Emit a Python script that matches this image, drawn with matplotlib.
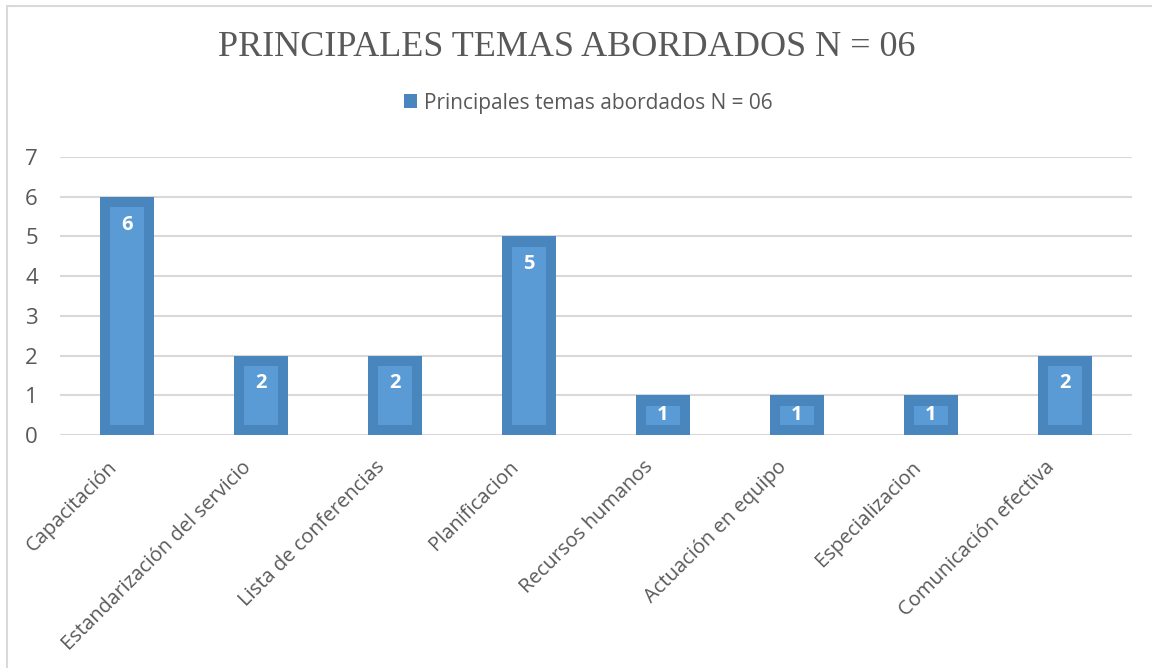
import matplotlib.pyplot as plt
from matplotlib.patches import Rectangle
from matplotlib.transforms import ScaledTranslation
import numpy as np

categories = ["Capacitación", "Estandarización del servicio", "Lista de conferencias",
              "Planificacion", "Recursos humanos", "Actuación en equipo",
              "Especializacion", "Comunicación efectiva"]
values = [6, 2, 2, 5, 1, 1, 1, 2]
y_ticks = [0, 1, 2, 3, 4, 5, 6, 7]
title = "PRINCIPALES TEMAS ABORDADOS N = 06"
series_name = "Principales temas abordados N = 06"

dark_blue = "#4a86be"
light_blue = "#5b9bd5"
grey_text = "#595959"

plt.rcParams['font.family'] = ['Open Sans', 'DejaVu Sans']

fig = plt.figure(figsize=(11.52, 6.68), dpi=100)
ax = fig.add_axes([60 / 1152, 1 - 435 / 668, 1072 / 1152, 278 / 668])

x = np.arange(len(categories))
vals = np.array(values, dtype=float)

# outer darker bar, then the lighter inner panel (Excel-like bevel)
ax.bar(x, vals, width=0.4, color=dark_blue, zorder=3, label=series_name)
ax.bar(x, vals - 0.52, width=0.25, bottom=0.25, color=light_blue, zorder=4)

for xi, v in zip(x, values):
    ax.text(xi, max(v - 0.7, v / 2), str(v), ha="center", va="center",
            color="white", fontsize=14.5, fontweight="bold", zorder=5)

ax.set_xlim(-0.5, len(categories) - 0.5)
ax.set_ylim(0, 7)
ax.set_yticks(y_ticks)
ax.yaxis.grid(True, color="#d9d9d9", linewidth=1.5, zorder=0)
ax.set_axisbelow(True)
for s in ax.spines.values():
    s.set_visible(False)
ax.tick_params(axis="both", length=0, colors=grey_text)
ax.tick_params(axis="y", pad=16, labelsize=16)
ax.set_xticks(x)
ax.set_xticklabels(categories, rotation=45, ha="right", va="top",
                   rotation_mode="anchor", fontsize=14.5)
ax.tick_params(axis="x", pad=16)
# Excel sets the slanted labels a little left of the tick
shift = ScaledTranslation(-20 / 100, 0, fig.dpi_scale_trans)
for lbl in ax.get_xticklabels():
    lbl.set_transform(lbl.get_transform() + shift)

fig.text(567 / 1152, 1 - 47 / 668, title, ha="center", va="center",
         fontsize=26, color=grey_text, family="Liberation Serif")

handles, labels = ax.get_legend_handles_labels()
fig.legend(handles[:1], labels[:1], loc="center", bbox_to_anchor=(588 / 1152, 1 - 103 / 668),
           frameon=False, fontsize=15, labelcolor=grey_text, handlelength=0.65,
           handleheight=0.65, handletextpad=0.3)

# chart frame
fig.patches.append(Rectangle((7 / 1152, -0.1), 1.2, 1.1 - 6 / 668, transform=fig.transFigure,
                             fill=False, edgecolor="#d9d9d9", linewidth=1.5))

fig.savefig("out.png", dpi=100)
